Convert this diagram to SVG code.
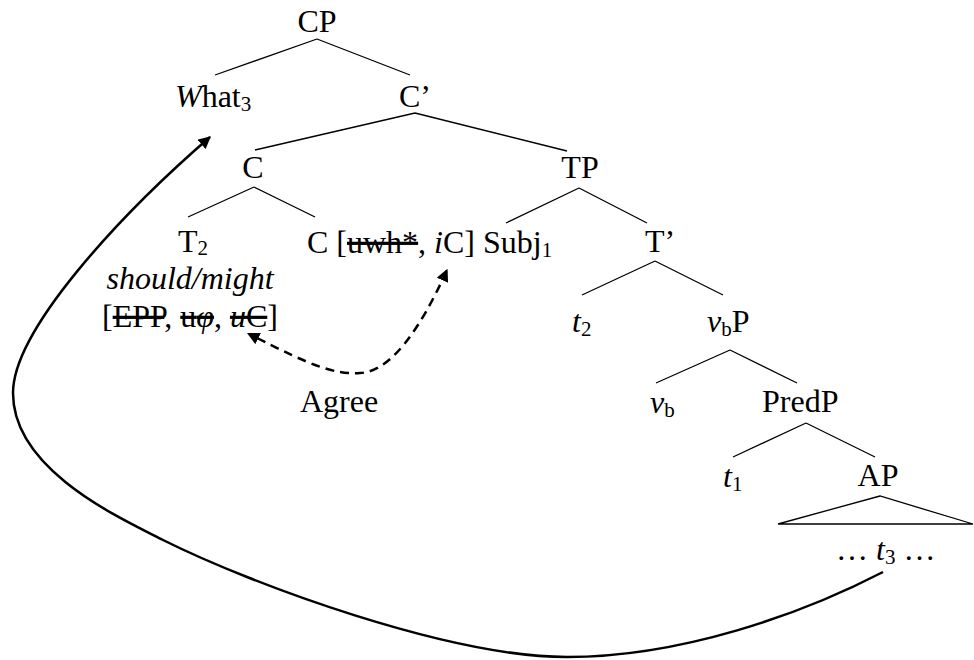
<svg xmlns="http://www.w3.org/2000/svg" width="974" height="660" viewBox="0 0 974 660">
<style>
.t{font-size:32px;fill:#000}
.it{font-style:italic}
.sub{font-size:21px}
.s{text-decoration:line-through}
.br{stroke:#000;stroke-width:1.3;fill:none}
.mv{stroke:#000;stroke-width:2.5;fill:none}
.ag{stroke:#000;stroke-width:2.5;fill:none;stroke-dasharray:9 6}
</style>
<defs>
<marker id="ah" viewBox="0 0 10 10" refX="9" refY="5" markerWidth="5" markerHeight="5" orient="auto" markerUnits="strokeWidth">
<path d="M0,0 L10,5 L0,10 z" fill="#000"/>
</marker>
<marker id="ahs" viewBox="0 0 10 10" refX="1" refY="5" markerWidth="5" markerHeight="5" orient="auto-start-reverse" markerUnits="strokeWidth">
<path d="M0,0 L10,5 L0,10 z" fill="#000"/>
</marker>
</defs>
<g id="connectors">
<path class="br" d="M317,39 L215,75 M317,39 L410,75"/>
<path class="br" d="M415,113 L255,150 M415,113 L567,151"/>
<path class="br" d="M254,187 L188,217 M254,187 L315,217"/>
<path class="br" d="M579,188 L506,223 M579,188 L647,223"/>
<path class="br" d="M655,261 L582,295 M655,261 L723,295"/>
<path class="br" d="M730,350 L656,383 M730,350 L797,383"/>
<path class="br" d="M806,423 L733,457 M806,423 L875,457"/>
<path class="br" d="M880,496 L778,524 L973,524 Z"/>
<path id="move" class="mv" marker-end="url(#ah)" d="M883,572 C800,615 680,657 567,657 C450,657 253,585 163,540 C120,518 13,470 13,393 C13,330 120,215 210,137"/>
<path id="agree" class="ag" marker-start="url(#ahs)" marker-end="url(#ah)" d="M257,338 C310,365 335,375 360,373 C390,372 420,330 447,270"/>
</g>
<g font-family="Liberation Serif, Times New Roman, serif">
<g id="n-CP"><text class="t" x="317" y="32" text-anchor="middle">CP</text></g>
<g id="n-What"><text class="t" x="175" y="107"><tspan class="it">W</tspan>hat<tspan class="sub" dy="4">3</tspan></text></g>
<g id="n-Cbar"><text class="t" x="415" y="107" text-anchor="middle">C’</text></g>
<g id="n-C"><text class="t" x="253" y="178" text-anchor="middle">C</text></g>
<g id="n-TP"><text class="t" x="580" y="178" text-anchor="middle">TP</text></g>
<g id="n-T2"><text class="t" x="193" y="252" text-anchor="middle">T<tspan class="sub" dy="3">2</tspan></text>
<text class="t it" x="190" y="289" text-anchor="middle">should/might</text>
<text class="t" x="102" y="327">[<tspan class="s">EPP</tspan>, <tspan class="s">u<tspan class="it">φ</tspan></tspan>, <tspan class="s"><tspan class="it">u</tspan>C</tspan>]</text></g>
<g id="n-Cfeat"><text class="t" x="307" y="253">C [<tspan class="s">uwh*</tspan>, <tspan class="it">i</tspan>C]</text></g>
<g id="n-Subj"><text class="t" x="483" y="253">Subj<tspan class="sub" dy="4">1</tspan></text></g>
<g id="n-Tbar"><text class="t" x="660" y="252" text-anchor="middle">T’</text></g>
<g id="n-t2"><text class="t" x="572" y="332"><tspan class="it">t</tspan><tspan class="sub" dy="4">2</tspan></text></g>
<g id="n-vbP"><text class="t" x="707" y="332"><tspan class="it">v</tspan><tspan class="sub" dy="4">b</tspan><tspan dy="-4">P</tspan></text></g>
<g id="n-Agree"><text class="t" x="300" y="412">Agree</text></g>
<g id="n-vb"><text class="t" x="650" y="413"><tspan class="it">v</tspan><tspan class="sub" dy="4">b</tspan></text></g>
<g id="n-PredP"><text class="t" x="762" y="412">PredP</text></g>
<g id="n-t1"><text class="t" x="723" y="487"><tspan class="it">t</tspan><tspan class="sub" dy="4">1</tspan></text></g>
<g id="n-AP"><text class="t" x="878" y="486" text-anchor="middle">AP</text></g>
<g id="n-t3"><text class="t" x="836" y="560">… <tspan class="it">t</tspan><tspan class="sub" dy="4">3</tspan><tspan dy="-4"> …</tspan></text></g>
</g>
</svg>
